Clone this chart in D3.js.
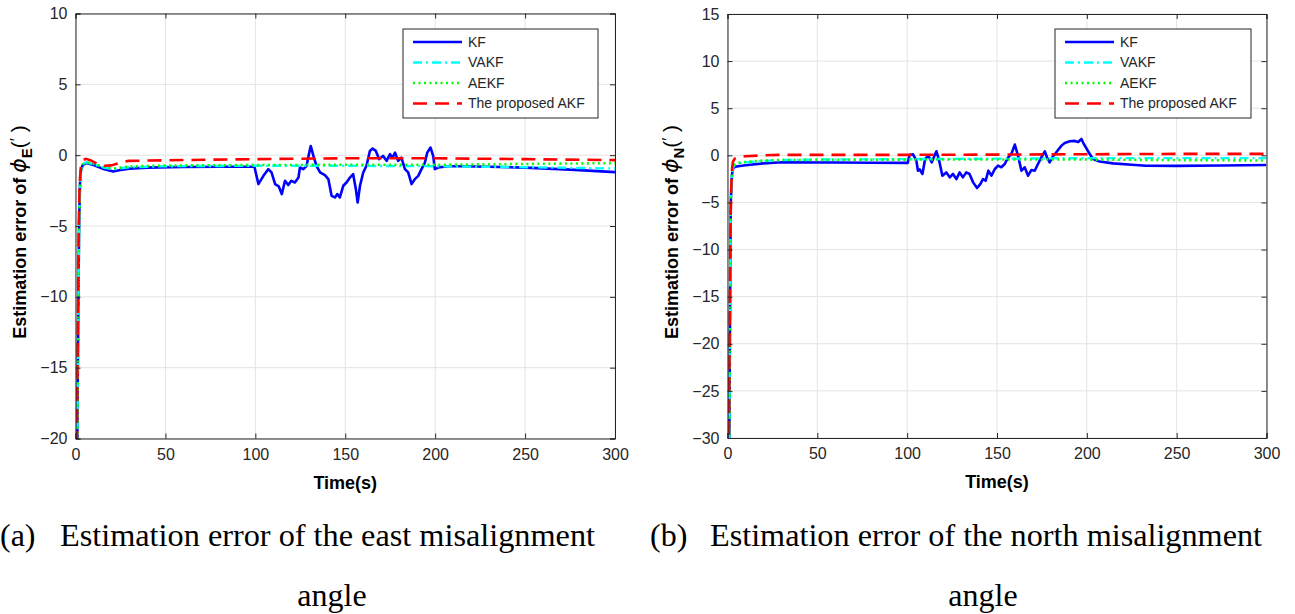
<!DOCTYPE html>
<html><head><meta charset="utf-8">
<script src="https://cdn.jsdelivr.net/npm/d3@7"></script>
<style>
html,body{margin:0;padding:0;background:#fff;}
svg{display:block;}
</style></head>
<body>
<script>
// ---------------- DATA ----------------
const xTicks = [0, 50, 100, 150, 200, 250, 300];
const yTicksEast = [-20, -15, -10, -5, 0, 5, 10];
const yTicksNorth = [-30, -25, -20, -15, -10, -5, 0, 5, 10, 15];
const seriesNames = ["KF", "VAKF", "AEKF", "The proposed AKF"];

// East misalignment (a)
const kfEastT = [0,1,1.5,2,2.5,3,4,6,10,15,21,25,30,40,60,80,99.5,
  101.7,104.5,107.2,109,111,113,114.7,116.5,118.3,120,122,124,124.8,126.7,128.5,129.6,130.8,132.3,134,136,138.7,140.6,142.4,144.3,145.6,147,148.9,150.7,152.6,154.4,155.9,156.9,158.2,160,161.8,163.7,165.2,167,168.9,171,173,174.9,176.3,177.7,179.4,181.2,183.2,185,186.9,188.7,190.6,192.4,194.3,195.6,197.4,198.9,199.8,201.7,
  207,215,230,250,275,300];
const kfEastV = [-22,-20,-12,-5,-2,-1.1,-0.7,-0.56,-0.7,-0.95,-1.15,-1.05,-0.95,-0.88,-0.84,-0.82,-0.82,
  -2.04,-1.46,-0.99,-1.22,-2.04,-2.2,-2.75,-1.81,-2.11,-1.81,-1.93,-1.58,-0.87,-0.99,-0.75,-0.05,0.65,-0.05,-0.75,-1.22,-1.41,-1.69,-2.87,-2.98,-2.75,-2.98,-2.16,-1.93,-1.58,-1.34,-2.4,-3.34,-2.16,-1.22,-0.75,0.3,0.47,0.3,-0.28,-0.05,-0.4,0.07,-0.17,0.18,-0.4,-0.17,-0.99,-1.22,-2.04,-1.69,-1.46,-0.99,-0.52,0.18,0.54,-0.05,-0.99,-0.87,
  -0.78,-0.78,-0.82,-0.88,-1.02,-1.2];
const vakfEastT = [0,1,1.5,2,2.5,3,4,6,10,15,21,25,30,50,100,150,200,250,300];
const vakfEastV = [-22,-20,-12,-5,-2,-1.1,-0.65,-0.5,-0.65,-0.85,-1.0,-0.92,-0.85,-0.78,-0.75,-0.75,-0.78,-0.85,-0.94];
const aekfEastT = [0,1,1.5,2,2.5,3,4,6,10,15,21,25,30,50,100,150,200,250,300];
const aekfEastV = [-22,-20,-12,-5,-2,-1.1,-0.65,-0.5,-0.62,-0.8,-0.95,-0.88,-0.8,-0.73,-0.7,-0.68,-0.68,-0.62,-0.56];
const akfEastT = [0,0.8,1.3,1.8,2.3,3,4,6,9,12,16,20,23,27,30,50,100,150,200,250,300];
const akfEastV = [-22,-20,-12,-5,-2,-0.8,-0.35,-0.26,-0.4,-0.6,-0.75,-0.72,-0.6,-0.45,-0.4,-0.36,-0.28,-0.22,-0.22,-0.28,-0.35];

// North misalignment (b)
const kfNorthT = [0,1,1.8,2.5,3,3.5,4.5,6,10,20,30,60,80,100.3,
  101.4,103.3,105.1,106,107,108.5,110,111.8,113.7,115.2,116.3,117.8,119.6,121.8,123.7,125.5,127.4,129.2,131,132.9,134.7,136.7,138.9,140.7,142.2,143.7,145.2,146.9,148.8,150.6,152.4,154.3,156.2,158,159.9,161.7,163.6,165.4,167.3,169.1,171,172.8,174.7,176.6,177.8,179.3,180.8,183,185.9,187.7,190.5,193.3,195.2,197,198.3,201.6,
  203.5,207,214.6,225,233,250,275,300];
const kfNorthV = [-32,-30,-5,-2,-1.5,-1.3,-1.2,-1.15,-1.05,-0.85,-0.74,-0.76,-0.78,-0.8,
  0.07,0.1,-0.56,-1.63,-1.5,-1.98,-0.39,-0.03,-0.74,-0.03,0.43,-0.56,-2.16,-1.81,-2.34,-1.98,-2.52,-1.81,-2.34,-1.81,-1.98,-2.87,-3.47,-3.05,-2.52,-2.7,-1.63,-2.16,-1.45,-1.1,-1.27,-0.92,-0.21,0.14,1.14,-0.03,-1.63,-1.27,-2.16,-1.56,-1.63,-0.92,-0.21,0.43,-0.21,-0.74,-0.21,0.32,1.03,1.32,1.49,1.53,1.42,1.74,1.21,0.14,
  -0.39,-0.65,-0.85,-1.0,-1.1,-1.12,-1.08,-1.03];
const vakfNorthT = [0,1,1.8,2.5,3,4,6,10,20,30,50,100,150,200,250,300];
const vakfNorthV = [-32,-30,-5,-2,-1.3,-1.0,-0.85,-0.75,-0.6,-0.5,-0.45,-0.4,-0.35,-0.3,-0.3,-0.3];
const aekfNorthT = [0,1,1.8,2.5,3,4,6,10,20,30,50,100,150,200,250,300];
const aekfNorthV = [-32,-30,-5,-2,-1.3,-1.0,-0.8,-0.7,-0.55,-0.5,-0.48,-0.45,-0.45,-0.45,-0.5,-0.55];
const akfNorthT = [0,0.8,1.5,2,2.5,3,4,6,10,20,30,50,100,150,200,250,300];
const akfNorthV = [-32,-30,-10,-4,-1.5,-0.7,-0.35,-0.2,-0.1,0.0,0.05,0.05,0.05,0.08,0.12,0.15,0.15];

// ---------------- DRAW ----------------
const W = 1295, H = 614;
const SANS = "Arial, 'Liberation Sans', Helvetica, sans-serif";
const SERIF = "'Times New Roman', 'Liberation Serif', Tinos, Times, serif";
const svg = d3.select("body").append("svg").attr("width", W).attr("height", H)
  .attr("font-family", SANS);

const colors = ["#0000ff", "#00ffff", "#00ff00", "#ff0000"];
const dashes = [null, "9,4,2,4", "2,3.5", "14,8"];
const widths = [2.6, 2.4, 2.6, 2.6];
const axisColor = "#262626";

function zip(t, v) { return t.map((d, i) => [d, v[i]]); }

function panel(cfg) {
  const x = d3.scaleLinear().domain([0, 300]).range([cfg.x0, cfg.x1]);
  const y = d3.scaleLinear().domain(cfg.yDomain).range([cfg.y1, cfg.y0]);
  const g = svg.append("g");

  // grid
  g.append("g").selectAll("line").data(xTicks).join("line")
    .attr("x1", d => x(d)).attr("x2", d => x(d)).attr("y1", cfg.y0).attr("y2", cfg.y1)
    .attr("stroke", "#e3e3e3").attr("stroke-width", 1);
  g.append("g").selectAll("line").data(cfg.yTicks).join("line")
    .attr("y1", d => y(d)).attr("y2", d => y(d)).attr("x1", cfg.x0).attr("x2", cfg.x1)
    .attr("stroke", "#e3e3e3").attr("stroke-width", 1);

  // clip
  const cid = "clip" + cfg.id;
  svg.append("defs").append("clipPath").attr("id", cid).append("rect")
    .attr("x", cfg.x0).attr("y", cfg.y0).attr("width", cfg.x1 - cfg.x0).attr("height", cfg.y1 - cfg.y0);

  const line = d3.line().x(d => x(d[0])).y(d => y(d[1]));
  const lg = g.append("g").attr("clip-path", `url(#${cid})`);
  cfg.series.forEach((s, i) => {
    lg.append("path").datum(s).attr("d", line)
      .attr("fill", "none").attr("stroke", colors[i]).attr("stroke-width", widths[i])
      .attr("stroke-linejoin", "round")
      .attr("stroke-dasharray", dashes[i]);
  });

  // axes (ticks inside, box)
  const tick = 5;
  const bottom = d3.axisBottom(x).tickValues(xTicks).tickSize(-tick).tickPadding(10).tickFormat(d3.format("d"));
  const left = d3.axisLeft(y).tickValues(cfg.yTicks).tickSize(-tick).tickPadding(8).tickFormat(d3.format("d"));
  const top = d3.axisTop(x).tickValues(xTicks).tickSize(-tick).tickFormat("");
  const right = d3.axisRight(y).tickValues(cfg.yTicks).tickSize(-tick).tickFormat("");
  const styleAxis = a => {
    a.attr("font-family", SANS);
    a.selectAll("path,line").attr("stroke", axisColor).attr("stroke-width", 1);
    a.selectAll("text").attr("fill", axisColor).attr("font-size", 16).attr("font-family", SANS);
  };
  styleAxis(g.append("g").attr("transform", `translate(0,${cfg.y1})`).call(bottom));
  styleAxis(g.append("g").attr("transform", `translate(${cfg.x0},0)`).call(left));
  styleAxis(g.append("g").attr("transform", `translate(0,${cfg.y0})`).call(top));
  styleAxis(g.append("g").attr("transform", `translate(${cfg.x1},0)`).call(right));

  // x label
  g.append("text").attr("x", (cfg.x0 + cfg.x1) / 2).attr("y", cfg.y1 + 50)
    .attr("text-anchor", "middle").attr("font-weight", "bold").attr("font-size", 18)
    .attr("font-family", SANS).attr("fill", "#000").text("Time(s)");

  // y label
  const yl = g.append("text")
    .attr("transform", `translate(${cfg.ylx},${cfg.ylc}) rotate(-90)`)
    .attr("text-anchor", "middle").attr("font-weight", "bold").attr("font-size", 18)
    .attr("font-family", SANS).attr("fill", "#000");
  yl.append("tspan").text("Estimation error of ");
  yl.append("tspan").attr("font-style", "italic").attr("font-weight", "normal")
    .attr("font-family", "'DejaVu Sans', sans-serif").attr("font-size", 22).text("ϕ");
  yl.append("tspan").attr("dy", 6).attr("font-size", 15).text(cfg.sub);
  yl.append("tspan").attr("dy", -6).attr("font-weight", "normal").attr("font-size", 21).text("(");
  yl.append("tspan").attr("dy", -4).attr("font-weight", "normal").attr("font-size", 16).text("′");
  yl.append("tspan").attr("dy", 4).attr("font-weight", "normal").attr("font-size", 21).text("  )");

  // legend
  const L = cfg.legend;
  const leg = g.append("g");
  leg.append("rect").attr("x", L.x).attr("y", L.y).attr("width", L.w).attr("height", L.h)
    .attr("fill", "#fff").attr("stroke", axisColor).attr("stroke-width", 1);
  seriesNames.forEach((n, i) => {
    const yy = L.y + 13 + i * 20.5;
    leg.append("line").attr("x1", L.x + 10).attr("x2", L.x + 59).attr("y1", yy).attr("y2", yy)
      .attr("stroke", colors[i]).attr("stroke-width", widths[i]).attr("stroke-dasharray", dashes[i]);
    leg.append("text").attr("x", L.x + 65).attr("y", yy).attr("dy", "0.35em")
      .attr("font-size", 14).attr("font-family", SANS).attr("fill", axisColor).text(n);
  });

  // caption
  const cap = svg.append("g").attr("font-family", SERIF).attr("fill", "#000");
  cap.append("text").attr("x", cfg.capX).attr("y", 546).attr("font-size", 32).text(cfg.capLabel);
  cap.append("text").attr("x", cfg.capX + 60).attr("y", 546).attr("font-size", 32)
    .attr("textLength", cfg.capLen).attr("lengthAdjust", "spacingAndGlyphs").text(cfg.capText);
  cap.append("text").attr("x", cfg.capMid).attr("y", 606).attr("font-size", 32)
    .attr("text-anchor", "middle").text("angle");
}

panel({
  id: "a", x0: 75.5, x1: 615, y0: 13.5, y1: 438.5, yDomain: [-20, 10], yTicks: yTicksEast,
  series: [zip(kfEastT, kfEastV), zip(vakfEastT, vakfEastV), zip(aekfEastT, aekfEastV), zip(akfEastT, akfEastV)],
  ylx: 26, ylc: 232, sub: "E",
  legend: { x: 403, y: 29, w: 195, h: 89 },
  capX: 0, capLabel: "(a)", capText: "Estimation error of the east misalignment", capLen: 535, capMid: 332
});
panel({
  id: "b", x0: 727.5, x1: 1266.5, y0: 14, y1: 438, yDomain: [-30, 15], yTicks: yTicksNorth,
  series: [zip(kfNorthT, kfNorthV), zip(vakfNorthT, vakfNorthV), zip(aekfNorthT, aekfNorthV), zip(akfNorthT, akfNorthV)],
  ylx: 678, ylc: 232, sub: "N",
  legend: { x: 1055, y: 29, w: 196, h: 89 },
  capX: 650, capLabel: "(b)", capText: "Estimation error of the north misalignment", capLen: 552, capMid: 983
});
</script>
</body></html>
